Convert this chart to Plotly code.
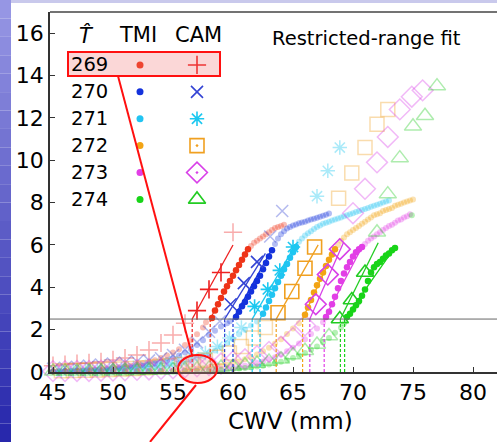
import plotly.graph_objects as go

# ---------------- data ----------------
T_LABELS = ["269", "270", "271", "272", "273", "274"]
TICK_X = [45, 50, 55, 60, 65, 70, 75, 80]
TICK_Y = [0, 2, 4, 6, 8, 10, 12, 14, 16]
FIT_LO = 2.5   # lower bound of restricted fit range
FIT_HI = 5.9   # upper bound of restricted fit range

# TMI (dense bins)
tmi_x_269 = [45, 45.5, 46, 46.5, 47, 47.5, 48, 48.5, 49, 49.5, 50, 50.5, 51, 51.5, 52, 52.5, 53, 53.5, 54, 54.5,
             55, 55.5, 56, 56.5, 57, 57.5, 57.75,
             58.25, 58.5, 58.75, 59, 59.25, 59.5, 59.75, 60, 60.25, 60.5, 60.75, 61, 61.25,
             61.5, 61.75, 62, 62.25, 62.5, 62.75, 63, 63.25, 63.5, 63.75, 64, 64.25]
tmi_y_269 = [0.03, 0.04, 0.05, 0.06, 0.07, 0.08, 0.1, 0.12, 0.14, 0.16, 0.19, 0.22, 0.26, 0.3, 0.35, 0.41, 0.48, 0.56, 0.66, 0.78,
             0.92, 1.08, 1.27, 1.5, 1.78, 2.1, 2.35,
             2.55, 2.9, 3.2, 3.5, 3.8, 4.05, 4.3, 4.55, 4.8, 5.05, 5.3, 5.55, 5.8,
             5.95, 6.1, 6.2, 6.3, 6.4, 6.5, 6.6, 6.7, 6.8, 6.85, 6.9, 6.95]

tmi_x_270 = [45, 45.5, 46, 46.5, 47, 47.5, 48, 48.5, 49, 49.5, 50, 50.5, 51, 51.5, 52, 52.5, 53, 53.5, 54, 54.5,
             55, 55.5, 56, 56.5, 57, 57.5, 58, 58.5, 59, 59.5, 59.75,
             60.25, 60.5, 60.75, 61, 61.25, 61.5, 61.75, 62, 62.25, 62.5, 62.75, 63, 63.25,
             63.5, 63.75, 64, 64.25, 64.5, 64.75, 65, 65.25, 65.5, 65.75, 66, 66.25, 66.5, 66.75, 67, 67.25, 67.5, 67.75, 68]
tmi_y_270 = [0.02, 0.03, 0.03, 0.04, 0.05, 0.06, 0.07, 0.08, 0.1, 0.12, 0.14, 0.16, 0.19, 0.22, 0.26, 0.3, 0.35, 0.41, 0.48, 0.56,
             0.66, 0.78, 0.92, 1.08, 1.27, 1.5, 1.75, 1.95, 2.15, 2.3, 2.4,
             2.6, 2.85, 3.1, 3.3, 3.55, 3.8, 4.05, 4.3, 4.55, 4.85, 5.15, 5.45, 5.75,
             6.05, 6.3, 6.5, 6.65, 6.78, 6.85, 6.92, 6.97, 7.02, 7.06, 7.1, 7.15, 7.2, 7.24, 7.28, 7.33, 7.38, 7.43, 7.48]

tmi_x_271 = [45, 45.5, 46, 46.5, 47, 47.5, 48, 48.5, 49, 49.5, 50, 50.5, 51, 51.5, 52, 52.5, 53, 53.5, 54, 54.5,
             55, 55.5, 56, 56.5, 57, 57.5, 58, 58.5, 59, 59.5, 60, 60.5, 61, 61.5, 62,
             62.5, 62.75, 63, 63.25, 63.5, 63.75, 64, 64.25, 64.5, 64.75, 65, 65.25,
             65.5, 65.75, 66, 66.25, 66.5, 66.75, 67, 67.25, 67.5, 67.75, 68, 68.25, 68.5, 68.75, 69, 69.25,
             69.5, 69.75, 70, 70.25, 70.5, 70.75, 71, 71.25, 71.5, 71.75, 72, 72.25, 72.5, 72.75, 73]
tmi_y_271 = [0.02, 0.02, 0.02, 0.03, 0.03, 0.04, 0.04, 0.05, 0.06, 0.07, 0.08, 0.09, 0.1, 0.12, 0.14, 0.16, 0.19, 0.22, 0.26, 0.3,
             0.35, 0.41, 0.48, 0.56, 0.65, 0.76, 0.88, 1.02, 1.18, 1.36, 1.56, 1.78, 2.0, 2.2, 2.38,
             2.75, 3.05, 3.35, 3.65, 3.95, 4.25, 4.55, 4.85, 5.1, 5.4, 5.65, 5.9,
             6.15, 6.3, 6.45, 6.55, 6.65, 6.75, 6.85, 6.92, 7.0, 7.05, 7.1, 7.15, 7.2, 7.25, 7.3, 7.35,
             7.4, 7.45, 7.5, 7.55, 7.6, 7.65, 7.7, 7.75, 7.8, 7.85, 7.9, 7.95, 8.0, 8.05, 8.1]

tmi_x_272 = [45, 46, 47, 48, 49, 50, 51, 52, 53, 54, 55, 56,
             56.5, 57, 57.5, 58, 58.5, 59, 59.5, 60, 60.5, 61, 61.5, 62, 62.5, 63, 63.5, 64, 64.5, 65, 65.5,
             66, 66.25, 66.5, 66.75, 67, 67.25, 67.5, 67.75, 68, 68.25, 68.5,
             68.75, 69, 69.25, 69.5, 69.75, 70, 70.25, 70.5, 70.75, 71, 71.25, 71.5, 71.75, 72, 72.25, 72.5,
             72.75, 73, 73.25, 73.5, 73.75, 74, 74.25, 74.5, 74.75, 75]
tmi_y_272 = [0.02, 0.02, 0.02, 0.02, 0.02, 0.03, 0.03, 0.04, 0.05, 0.06, 0.08, 0.11,
             0.13, 0.15, 0.18, 0.21, 0.25, 0.3, 0.36, 0.42, 0.5, 0.6, 0.7, 0.83, 0.98, 1.15, 1.35, 1.55, 1.8, 2.05, 2.3,
             2.7, 3.05, 3.4, 3.75, 4.1, 4.4, 4.7, 5.0, 5.3, 5.55, 5.8,
             6.0, 6.2, 6.35, 6.5, 6.6, 6.7, 6.8, 6.9, 7.0, 7.1, 7.2, 7.3, 7.4, 7.45, 7.5, 7.6,
             7.65, 7.7, 7.75, 7.85, 7.9, 7.95, 8.0, 8.05, 8.1, 8.15]

tmi_x_273 = [45, 46, 47, 48, 49, 50, 51, 52, 53, 54, 55, 56, 57, 58,
             58.5, 59, 59.5, 60, 60.5, 61, 61.5, 62, 62.5, 63, 63.5, 64, 64.5, 65, 65.5, 66, 66.5, 67, 67.5,
             67.75, 68, 68.25, 68.5, 68.75, 69, 69.25, 69.5, 69.75, 70, 70.25, 70.5, 70.75,
             71, 71.25, 71.5, 71.75, 72, 72.25, 72.5, 72.75, 73, 73.25, 73.5, 73.75, 74, 74.25, 74.5, 74.75]
tmi_y_273 = [0.02, 0.02, 0.02, 0.02, 0.02, 0.02, 0.03, 0.03, 0.04, 0.04, 0.05, 0.06, 0.08, 0.11,
             0.13, 0.15, 0.18, 0.21, 0.25, 0.3, 0.36, 0.42, 0.5, 0.6, 0.7, 0.83, 0.98, 1.15, 1.35, 1.55, 1.8, 2.05, 2.35,
             2.6, 2.85, 3.2, 3.55, 3.95, 4.3, 4.65, 4.95, 5.2, 5.45, 5.65, 5.8, 5.9,
             6.05, 6.2, 6.3, 6.4, 6.5, 6.6, 6.7, 6.8, 6.9, 6.95, 7.05, 7.15, 7.2, 7.3, 7.35, 7.45]

tmi_x_274 = [45, 46, 47, 48, 49, 50, 51, 52, 53, 54, 55, 56, 57, 58, 59, 60,
             60.5, 61, 61.5, 62, 62.5, 63, 63.5, 64, 64.5, 65, 65.5, 66, 66.5, 67, 67.5, 68, 68.5, 69, 69.25,
             69.5, 69.75, 70, 70.25, 70.5, 70.75, 71, 71.25, 71.5, 71.75, 72, 72.25, 72.5, 72.75, 73, 73.25, 73.5,
             74.9]
tmi_y_274 = [0.02, 0.02, 0.02, 0.02, 0.02, 0.02, 0.02, 0.03, 0.03, 0.04, 0.04, 0.05, 0.06, 0.08, 0.1, 0.14,
             0.16, 0.19, 0.22, 0.26, 0.3, 0.35, 0.41, 0.48, 0.56, 0.66, 0.78, 0.9, 1.05, 1.2, 1.4, 1.6, 1.85, 2.1, 2.3,
             2.6, 2.75, 2.95, 3.15, 3.35, 3.6, 3.9, 4.3, 4.7, 4.95, 5.1, 5.2, 5.35, 5.5, 5.6, 5.75, 5.85,
             7.4]

# CAM (1 mm bins)
cam_x_269 = [45, 46, 47, 48, 49, 50, 51, 52, 53, 54, 55, 56, 57, 58, 59, 60]
cam_y_269 = [0.3, 0.35, 0.4, 0.43, 0.48, 0.57, 0.66, 0.8, 1.04, 1.37, 1.75, 2.3, 2.9, 3.9, 4.7, 6.6]

cam_x_270 = [45, 46, 47, 48, 49, 50, 51, 52, 53, 54, 55, 56, 57, 58, 58.9, 59.8, 60.9, 62.0, 63.1, 64.1]
cam_y_270 = [0.15, 0.2, 0.25, 0.3, 0.35, 0.4, 0.45, 0.5, 0.55, 0.65, 0.8, 1.05, 1.4, 1.9, 2.4, 3.2, 4.2, 5.2, 6.4, 7.6]

cam_x_271 = [45.7, 46.7, 47.7, 48.7, 49.7, 50.7, 51.7, 52.7, 53.7, 54.7, 55.7, 56.7, 57.7, 58.7, 59.7, 60.7,
             61.8, 62.9, 63.9, 65.0, 67.0, 67.9, 68.9]
cam_y_271 = [0.05, 0.06, 0.08, 0.1, 0.12, 0.15, 0.2, 0.25, 0.3, 0.4, 0.5, 0.7, 0.9, 1.2, 1.6, 2.1,
             3.1, 3.9, 4.8, 5.9, 8.3, 9.5, 10.6]

cam_x_272 = [45.7, 46.7, 47.7, 48.7, 49.7, 50.7, 51.7, 52.7, 53.7, 54.7, 55.7, 56.7, 57.7, 58.7, 59.7, 60.7, 61.7, 62.7,
             63.75, 64.9, 66.0, 66.8, 68.8, 69.9, 71.0, 72.0, 72.9]
cam_y_272 = [0.06, 0.07, 0.08, 0.1, 0.12, 0.14, 0.17, 0.2, 0.25, 0.3, 0.35, 0.45, 0.55, 0.7, 0.9, 1.2, 1.6, 2.1,
             2.8, 3.8, 4.9, 5.9, 8.2, 9.4, 10.6, 11.7, 12.4]

cam_x_273 = [45, 46, 47, 48, 49, 50, 51, 52, 53, 54, 55, 56, 57, 58, 59, 60, 61, 62, 63, 64, 65, 66,
             66.9, 67.9, 68.9, 70.0, 71.0, 72.0, 72.9, 73.9, 74.9, 75.8]
cam_y_273 = [0.04, 0.04, 0.05, 0.05, 0.06, 0.07, 0.08, 0.1, 0.12, 0.15, 0.18, 0.22, 0.27, 0.33, 0.4, 0.5, 0.6, 0.75, 0.95, 1.2, 1.6, 2.2,
             3.2, 4.6, 5.8, 7.5, 8.65, 9.9, 11.1, 12.4, 13.0, 13.3]

cam_x_274 = [45, 46, 47, 48, 49, 50, 51, 52, 53, 54, 55, 56, 57, 58, 59, 60, 61, 62, 63, 64, 65, 66, 67, 68,
             68.9, 69.9, 71.0, 72.0, 72.9, 73.9, 75.0, 76.0, 77.0]
cam_y_274 = [0.03, 0.03, 0.03, 0.04, 0.04, 0.05, 0.05, 0.06, 0.07, 0.08, 0.1, 0.12, 0.14, 0.17, 0.21, 0.26, 0.32, 0.4, 0.5, 0.6, 0.8, 1.0, 1.3, 1.7,
             2.5, 3.4, 4.7, 6.6, 8.4, 10.1, 11.6, 12.1, 13.5]

# restricted-range linear fits: CWV where fit crosses 2.5, end point of fit line
fit_tmi_x0 = [58.1, 60.0, 62.25, 65.8, 67.6, 69.3]
fit_tmi_x1 = [61.3, 63.3, 65.3, 68.5, 70.8, 73.5]
fit_tmi_y1 = [5.95, 5.85, 5.95, 5.85, 5.95, 5.9]
fit_cam_x0 = [56.6, 59.3, 61.6, 63.6, 66.4, 68.95]
fit_cam_x1 = [60.0, 62.7, 65.2, 67.1, 69.2, 72.1]
fit_cam_y1 = [6.0, 5.6, 6.0, 6.0, 6.1, 6.1]

tmi_x = [tmi_x_269, tmi_x_270, tmi_x_271, tmi_x_272, tmi_x_273, tmi_x_274]
tmi_y = [tmi_y_269, tmi_y_270, tmi_y_271, tmi_y_272, tmi_y_273, tmi_y_274]
cam_x = [cam_x_269, cam_x_270, cam_x_271, cam_x_272, cam_x_273, cam_x_274]
cam_y = [cam_y_269, cam_y_270, cam_y_271, cam_y_272, cam_y_273, cam_y_274]
for a, b in zip(tmi_x + cam_x, tmi_y + cam_y):
    assert len(a) == len(b), (len(a), len(b))

# ---------------- style ----------------
TMI_COL = ["#ee3418", "#1432dc", "#22c4f2", "#f2a414", "#e23ee6", "#18d418"]
CAM_COL = ["#ee2020", "#3444d4", "#1cc8f0", "#f0a020", "#d840e8", "#22cc22"]
CAM_SYM = ["cross-thin", "x-thin", "asterisk", "square-open", "diamond-open", "triangle-up-open"]
CAM_LEG_SYM = ["cross-thin", "x-thin", "asterisk", "square-open-dot", "diamond-open-dot", "triangle-up-open"]
CAM_SIZE = [13, 12, 12, 14, 16, 15]
FONT = "DejaVu Sans"
FADE = 0.32

W, H = 497, 442
L, R, T, B = 50, 0, 12, 70
XR = [44.75, 82.0]
YR = [0, 17.0]


def xp(px):
    return (px - L) / (W - L - R)


def yp(py):
    return (H - B - py) / (H - T - B)


def split(xs, ys):
    bx, by, fx, fy = [], [], [], []
    for x, y in zip(xs, ys):
        if FIT_LO <= y <= FIT_HI + 1e-9:
            bx.append(x); by.append(y)
        else:
            fx.append(x); fy.append(y)
    return bx, by, fx, fy


fig = go.Figure()

# faded points
for i in range(6):
    bx, by, fx, fy = split(tmi_x[i], tmi_y[i])
    fig.add_trace(go.Scatter(x=fx, y=fy, mode="markers", cliponaxis=False,
                             marker=dict(size=6, color=TMI_COL[i], opacity=FADE, line=dict(width=0))))
for i in range(6):
    bx, by, fx, fy = split(cam_x[i], cam_y[i])
    fig.add_trace(go.Scatter(x=fx, y=fy, mode="markers", cliponaxis=False,
                             marker=dict(size=CAM_SIZE[i], symbol=CAM_SYM[i], color=CAM_COL[i], opacity=FADE + 0.05,
                                         line=dict(width=1.5, color=CAM_COL[i]))))

# dashed verticals down from fit intercepts
for i in range(6):
    for x0, col in ((fit_cam_x0[i], CAM_COL[i]), (fit_tmi_x0[i], TMI_COL[i])):
        fig.add_trace(go.Scatter(x=[x0, x0], y=[0, FIT_LO], mode="lines",
                                 line=dict(color=col, width=1.2, dash="3px,2px")))

# bold points (fitted range) and fit lines
for i in range(6):
    bx, by, fx, fy = split(tmi_x[i], tmi_y[i])
    fig.add_trace(go.Scatter(x=[fit_tmi_x0[i], fit_tmi_x1[i]], y=[FIT_LO, fit_tmi_y1[i]], mode="lines",
                             line=dict(color=TMI_COL[i], width=1.3)))
    fig.add_trace(go.Scatter(x=bx, y=by, mode="markers",
                             marker=dict(size=6.5, color=TMI_COL[i], line=dict(width=0))))
for i in range(6):
    bx, by, fx, fy = split(cam_x[i], cam_y[i])
    fig.add_trace(go.Scatter(x=[fit_cam_x0[i], fit_cam_x1[i]], y=[FIT_LO, fit_cam_y1[i]], mode="lines",
                             line=dict(color=CAM_COL[i], width=1.3)))
    fig.add_trace(go.Scatter(x=bx, y=by, mode="markers",
                             marker=dict(size=CAM_SIZE[i], symbol=CAM_SYM[i], color=CAM_COL[i],
                                         line=dict(width=1.6, color=CAM_COL[i]))))

# legend (drawn inside plot like the original)
LEG_Y = [14.5, 13.23, 11.96, 10.69, 9.42, 8.15]
LEG_X_LABEL, LEG_X_TMI, LEG_X_CAM = 46.3, 52.25, 57.0
fig.add_trace(go.Scatter(x=[LEG_X_TMI] * 6, y=LEG_Y, mode="markers",
                         marker=dict(size=7, color=TMI_COL, line=dict(width=0))))
for i in range(6):
    fig.add_trace(go.Scatter(x=[LEG_X_CAM], y=[LEG_Y[i]], mode="markers",
                             marker=dict(size=CAM_SIZE[i], symbol=CAM_LEG_SYM[i], color=CAM_COL[i],
                                         line=dict(width=1.6, color=CAM_COL[i]))))

ann = []
for i, lab in enumerate(T_LABELS):
    ann.append(dict(x=LEG_X_LABEL, y=LEG_Y[i], text=lab, showarrow=False, xanchor="left", yanchor="middle",
                    font=dict(family=FONT, size=19.5, color="black")))
for txt, x in (("<i>T\u0302</i>", 47.8), ("TMI", 52.1), ("CAM", 57.1)):
    ann.append(dict(x=x, y=15.9, text=txt, showarrow=False, xanchor="center", yanchor="middle",
                    font=dict(family=FONT, size=21, color="black")))
ann.append(dict(x=71.1, y=15.75, text="Restricted-range fit", showarrow=False, xanchor="center", yanchor="middle",
                font=dict(family=FONT, size=19.5, color="black")))
ann.append(dict(x=64.75, xref="x", y=yp(421), yref="paper", text="CWV (mm)", showarrow=False,
                xanchor="center", yanchor="middle", font=dict(family=FONT, size=23, color="black")))

shapes = []
# slide background: left gradient strip and top band
N = 24
for k in range(N):
    t = k / (N - 1)
    r = int(150 + (40 - 150) * t); g = int(150 + (40 - 150) * t); b = int(228 + (172 - 228) * t)
    shapes.append(dict(type="rect", xref="paper", yref="paper", x0=xp(0), x1=xp(11),
                       y0=yp(H * (k + 1) / N), y1=yp(H * k / N), line=dict(width=0),
                       fillcolor=f"rgb({r},{g},{b})", layer="above"))
shapes.append(dict(type="rect", xref="paper", yref="paper", x0=xp(11), x1=xp(W), y0=yp(3), y1=yp(0),
                   line=dict(width=0), fillcolor="#c9c9ec", layer="above"))
# top frame line and 2.5 threshold line
shapes.append(dict(type="line", xref="paper", yref="paper", x0=0, x1=1, y0=1, y1=1,
                   line=dict(color="#444", width=1.5)))
shapes.append(dict(type="line", xref="paper", yref="y", x0=0, x1=1, y0=FIT_LO, y1=FIT_LO,
                   line=dict(color="#666", width=1), layer="above"))
# red highlight overlay
shapes.append(dict(type="rect", xref="paper", yref="paper", x0=xp(68), x1=xp(220), y0=yp(76), y1=yp(52),
                   line=dict(color="#ff1010", width=2), fillcolor="rgba(240,110,110,0.28)", layer="above"))
shapes.append(dict(type="line", xref="paper", yref="paper", x0=xp(118), y0=yp(76), x1=xp(192), y1=yp(355),
                   line=dict(color="#ff1010", width=2), layer="above"))
shapes.append(dict(type="circle", xref="paper", yref="paper", x0=xp(178), x1=xp(217), y0=yp(383), y1=yp(355),
                   line=dict(color="#ff1010", width=2), fillcolor="rgba(255,150,150,0.25)", layer="above"))
shapes.append(dict(type="line", xref="paper", yref="paper", x0=xp(196), y0=yp(385), x1=xp(150), y1=yp(442),
                   line=dict(color="#ff1010", width=2), layer="above"))

fig.update_layout(
    width=W, height=H, margin=dict(l=L, r=R, t=T, b=B, autoexpand=False),
    paper_bgcolor="white", plot_bgcolor="white", showlegend=False,
    annotations=ann, shapes=shapes, hovermode=False,
    xaxis=dict(range=XR, tickvals=TICK_X, ticks="inside", ticklen=5, tickwidth=1.2, tickcolor="#333",
               showline=True, linecolor="#333", linewidth=1.5, showgrid=False, zeroline=False, automargin=False,
               tickfont=dict(family=FONT, size=22, color="black")),
    yaxis=dict(range=YR, tickvals=TICK_Y, ticks="inside", ticklen=5, tickwidth=1.2, tickcolor="#333",
               showline=True, linecolor="#333", linewidth=1.5, showgrid=False, zeroline=False, automargin=False,
               tickfont=dict(family=FONT, size=22, color="black")),
)
fig.write_html("out.html", config={"displayModeBar": False},
               post_script="document.body.style.margin='0';document.body.style.overflow='hidden';")
